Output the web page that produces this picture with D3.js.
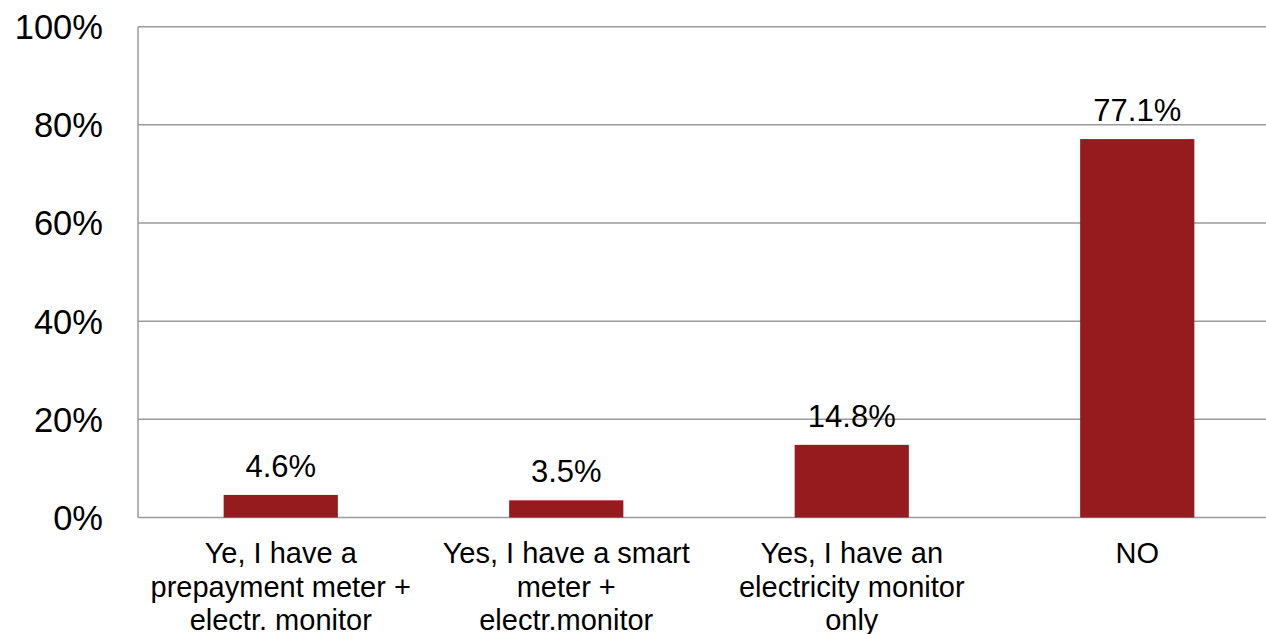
<!DOCTYPE html>
<html>
<head>
<meta charset="utf-8">
<script src="https://cdn.jsdelivr.net/npm/d3@7"></script>
<style>
  html, body { margin: 0; padding: 0; background: #fff; overflow: hidden; }
  text { font-family: "Liberation Sans", Arial, sans-serif; fill: #000; }
</style>
</head>
<body>
<svg id="chart" width="1266" height="634"></svg>
<script>
// Survey answers: metering / monitoring equipment at home
const categories = [
  "Ye, I have a\nprepayment meter +\nelectr. monitor",
  "Yes, I have a smart\nmeter +\nelectr.monitor",
  "Yes, I have an\nelectricity monitor\nonly",
  "NO"
];
const shares = [4.6, 3.5, 14.8, 77.1];
const yTicks = [0, 20, 40, 60, 80, 100];

const svg = d3.select("#chart");
const plot = { left: 138, right: 1280, top: 26.7, bottom: 517.5 };

const x = d3.scaleBand()
  .domain(categories)
  .range([plot.left, plot.right])
  .paddingInner(0.6)
  .paddingOuter(0.3);

const y = d3.scaleLinear()
  .domain([0, 100])
  .range([plot.bottom, plot.top]);

// Horizontal gridlines
svg.append("g")
  .selectAll("line")
  .data(yTicks)
  .join("line")
  .attr("x1", plot.left)
  .attr("x2", plot.right)
  .attr("y1", d => y(d))
  .attr("y2", d => y(d))
  .attr("stroke", "#9b9b9b")
  .attr("stroke-width", 1.5);

// Value axis line
svg.append("line")
  .attr("x1", plot.left).attr("x2", plot.left)
  .attr("y1", y(100)).attr("y2", y(0))
  .attr("stroke", "#9b9b9b")
  .attr("stroke-width", 1.5);

// Value axis tick labels
svg.append("g")
  .selectAll("text")
  .data(yTicks)
  .join("text")
  .attr("x", 103)
  .attr("y", d => y(d))
  .attr("dy", "0.36em")
  .attr("text-anchor", "end")
  .style("font-size", "34.5px")
  .text(d => d + "%");

// Bars
svg.append("g")
  .selectAll("rect")
  .data(shares)
  .join("rect")
  .attr("x", (d, i) => x(categories[i]))
  .attr("width", x.bandwidth())
  .attr("y", d => y(d))
  .attr("height", d => y(0) - y(d))
  .attr("fill", "#961b1e");

// Value labels above bars
svg.append("g")
  .selectAll("text")
  .data(shares)
  .join("text")
  .attr("x", (d, i) => x(categories[i]) + x.bandwidth() / 2)
  .attr("y", d => y(d) - 18)
  .attr("text-anchor", "middle")
  .style("font-size", "31px")
  .text(d => d.toFixed(1) + "%");

// Category labels, wrapped on explicit line breaks
const cat = svg.append("g")
  .selectAll("text")
  .data(categories)
  .join("text")
  .attr("x", d => x(d) + x.bandwidth() / 2)
  .attr("y", 563)
  .attr("text-anchor", "middle")
  .style("font-size", "29px");

cat.each(function(d) {
  const t = d3.select(this);
  d.split("\n").forEach((line, i) => {
    t.append("tspan")
      .attr("x", x(d) + x.bandwidth() / 2)
      .attr("dy", i === 0 ? 0 : 33.5)
      .text(line);
  });
});
</script>
</body>
</html>
